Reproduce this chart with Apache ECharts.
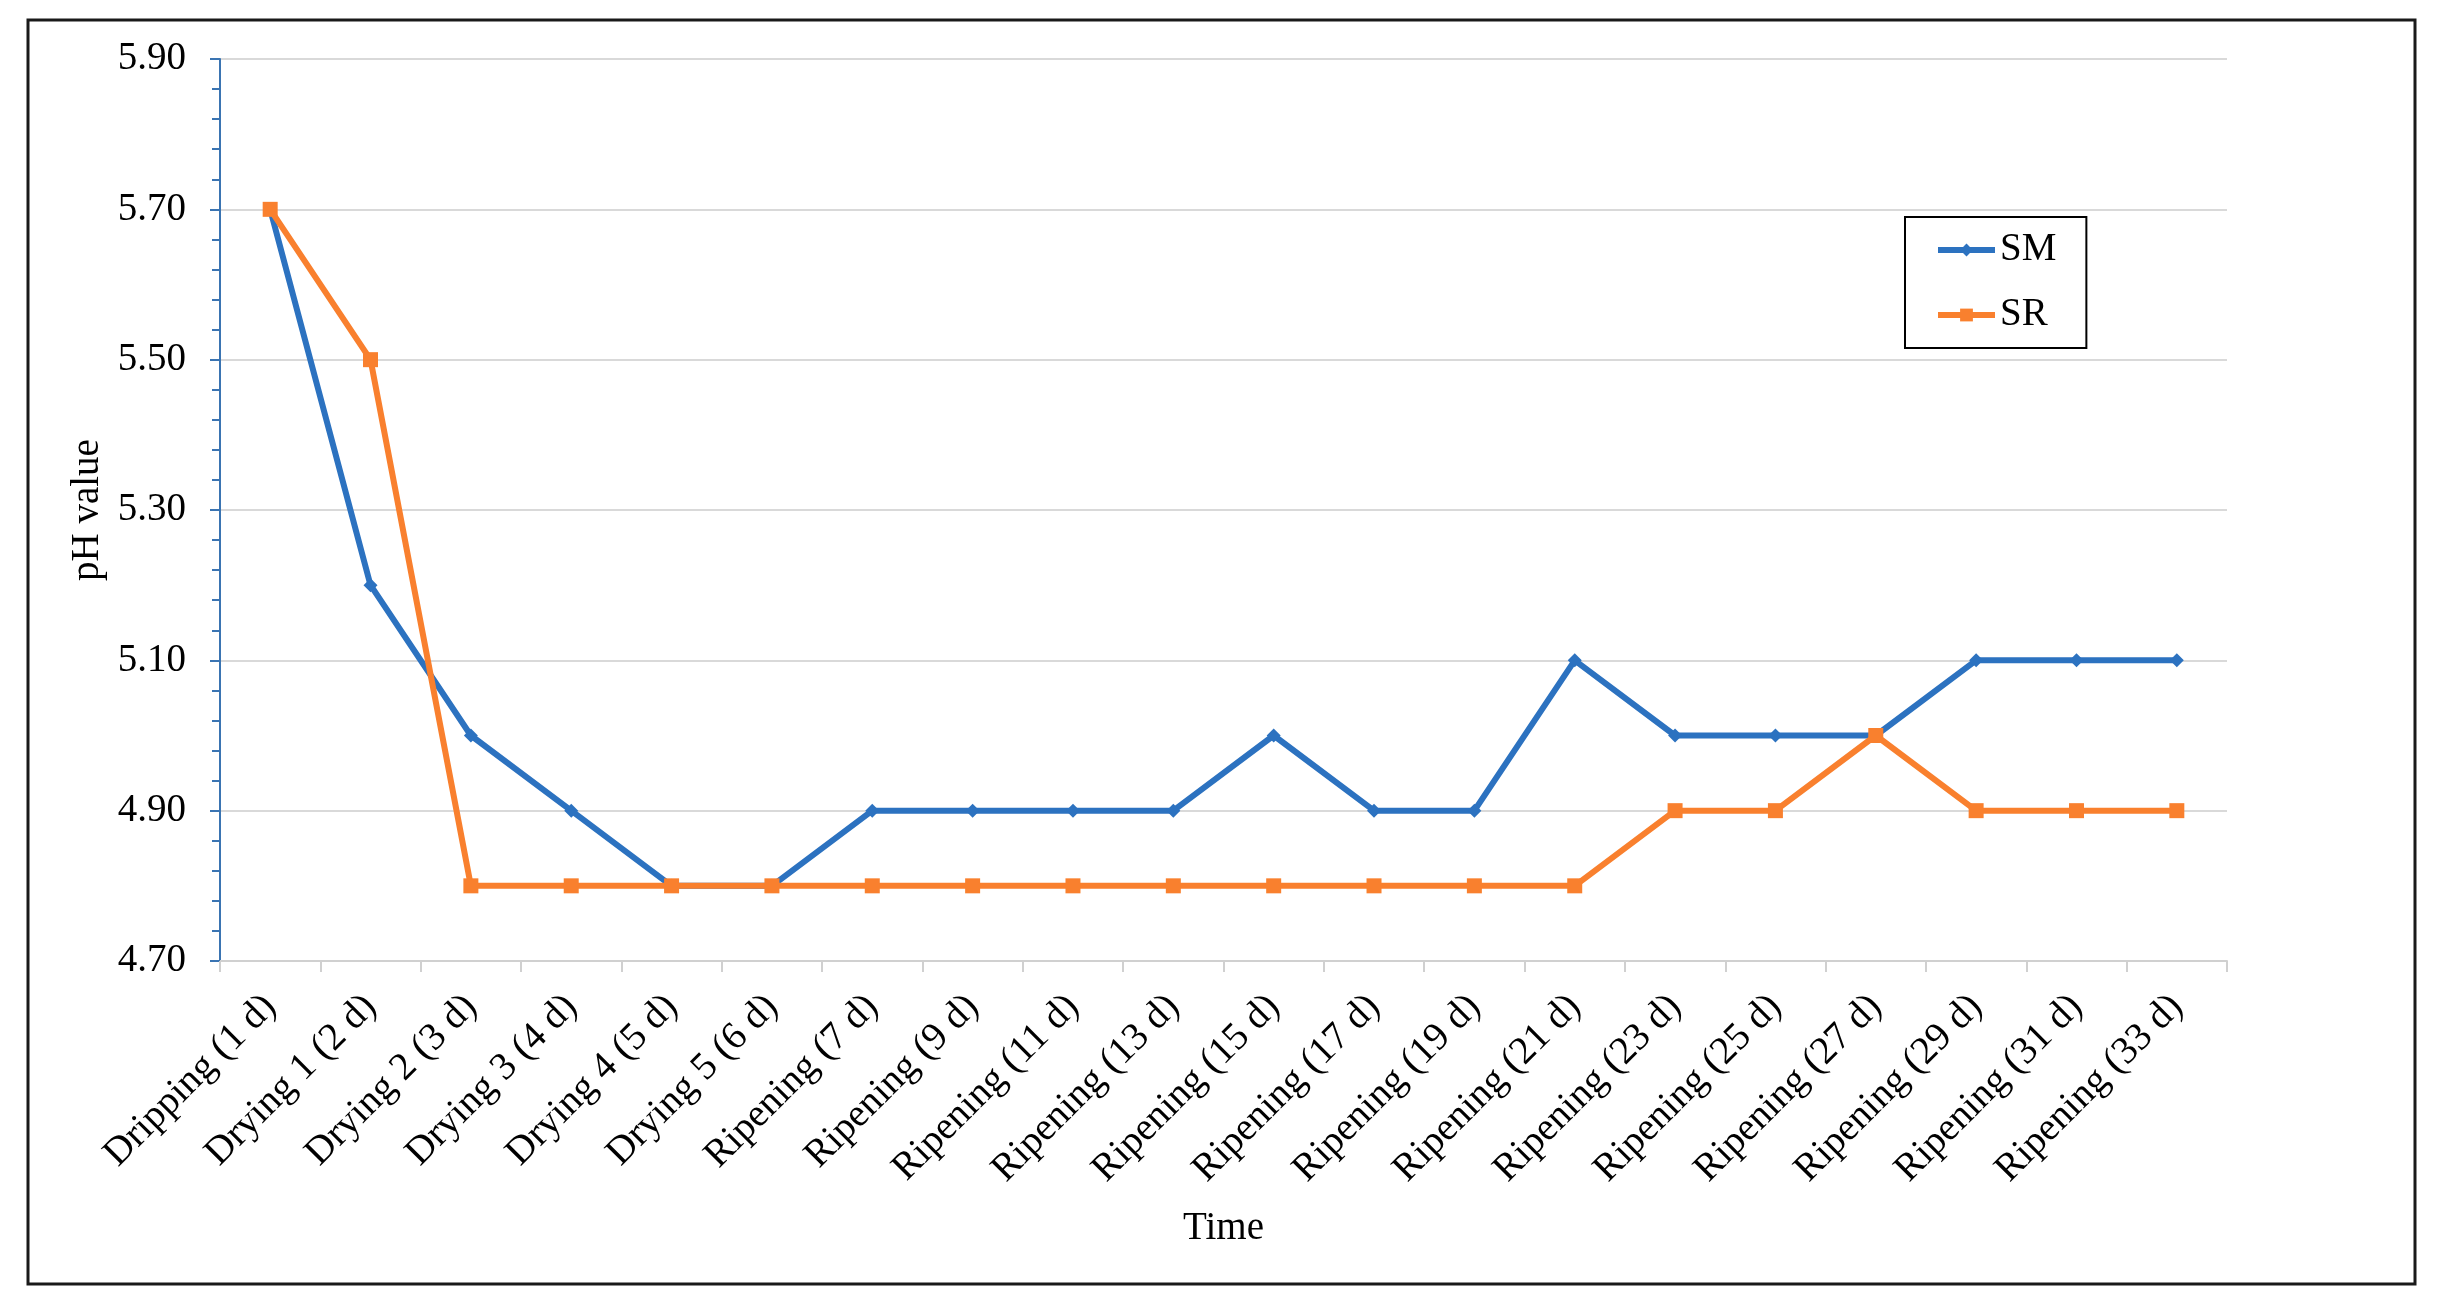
<!DOCTYPE html>
<html>
<head>
<meta charset="utf-8">
<script src="https://cdn.jsdelivr.net/npm/echarts@6/dist/echarts.min.js"></script>
<style>
html,body{margin:0;padding:0;background:#fff;}
#c{width:2449px;height:1314px;}
</style>
</head>
<body>
<div id="c"></div>
<script>
const categories = ['Dripping (1 d)','Drying 1 (2 d)','Drying 2 (3 d)','Drying 3 (4 d)','Drying 4 (5 d)','Drying 5 (6 d)','Ripening (7 d)','Ripening (9 d)','Ripening (11 d)','Ripening (13 d)','Ripening (15 d)','Ripening (17 d)','Ripening (19 d)','Ripening (21 d)','Ripening (23 d)','Ripening (25 d)','Ripening (27 d)','Ripening (29 d)','Ripening (31 d)','Ripening (33 d)'];
const smValues = [5.7,5.2,5.0,4.9,4.8,4.8,4.9,4.9,4.9,4.9,5.0,4.9,4.9,5.1,5.0,5.0,5.0,5.1,5.1,5.1];
const srValues = [5.7,5.5,4.8,4.8,4.8,4.8,4.8,4.8,4.8,4.8,4.8,4.8,4.8,4.8,4.9,4.9,5.0,4.9,4.9,4.9];
const yMin = 4.7, yMax = 5.9, yStep = 0.2;

const FONT = "'Liberation Serif','Times New Roman',serif";
const BLUE = '#2c72c0';
const ORANGE = '#f9802e';
const AXISBLUE = '#3a74b2';

const chart = echarts.init(document.getElementById('c'), null, {renderer:'canvas'});
chart.setOption({
  animation: false,
  backgroundColor: '#fff',
  textStyle: {fontFamily: FONT},
  graphic: [{
    type: 'rect', z: 100,
    shape: {x: 28, y: 20, width: 2387, height: 1264},
    style: {fill: 'none', stroke: '#1a1a1a', lineWidth: 3}
  }],
  grid: {left: 220, right: 222, top: 59, bottom: 353, containLabel: false},
  legend: {
    orient: 'vertical',
    left: 1905, top: 217,
    padding: [13, 30, 13, 30],
    itemGap: 25,
    itemWidth: 57, itemHeight: 16,
    borderColor: '#000', borderWidth: 2,
    backgroundColor: '#fff',
    lineStyle: {width: 6},
    textStyle: {fontFamily: FONT, fontSize: 39, color: '#000', lineHeight: 40, padding: [0,0,0,0]},
    data: ['SM','SR']
  },
  xAxis: {
    type: 'category',
    data: categories,
    boundaryGap: true,
    name: 'Time',
    nameLocation: 'middle',
    nameGap: 268,
    nameTextStyle: {fontFamily: FONT, fontSize: 39, color: '#000', verticalAlign: 'middle'},
    axisLine: {show: true, lineStyle: {color: '#d0d0d0', width: 2}},
    axisTick: {show: true, alignWithLabel: false, length: 11, lineStyle: {color: '#d0d0d0', width: 2}},
    axisLabel: {rotate: 45, interval: 0, margin: 40, fontFamily: FONT, fontSize: 39, color: '#000'},
    splitLine: {show: false}
  },
  yAxis: {
    type: 'value',
    min: yMin, max: yMax, interval: yStep,
    name: 'pH value',
    nameLocation: 'middle',
    nameGap: 126,
    nameRotate: 90,
    nameTextStyle: {fontFamily: FONT, fontSize: 39, color: '#000', verticalAlign: 'middle'},
    axisLine: {show: true, lineStyle: {color: AXISBLUE, width: 2}},
    axisTick: {show: true, inside: false, length: 10, lineStyle: {color: AXISBLUE, width: 2}},
    minorTick: {show: true, splitNumber: 5, length: 8, lineStyle: {color: AXISBLUE, width: 2}},
    axisLabel: {margin: 34, fontFamily: FONT, fontSize: 39, color: '#000',
      formatter: v => Number(v).toFixed(2)},
    splitLine: {show: true, lineStyle: {color: '#d9d9d9', width: 2}}
  },
  series: [
    {
      name: 'SM', type: 'line', data: smValues,
      symbol: 'diamond', symbolSize: 14, showAllSymbol: true,
      lineStyle: {color: BLUE, width: 6},
      itemStyle: {color: BLUE},
      z: 2
    },
    {
      name: 'SR', type: 'line', data: srValues,
      symbol: 'rect', symbolSize: 15, showAllSymbol: true,
      lineStyle: {color: ORANGE, width: 6},
      itemStyle: {color: ORANGE},
      z: 3
    }
  ]
});
</script>
</body>
</html>
